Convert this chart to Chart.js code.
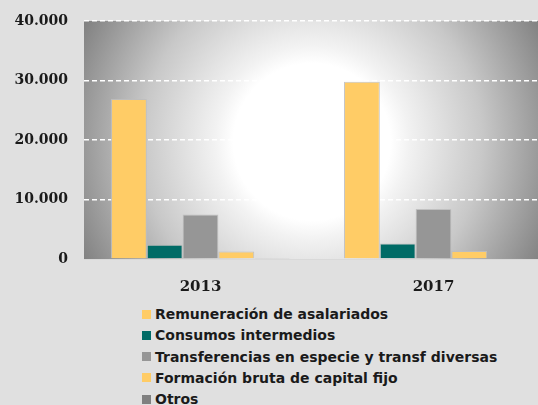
<!DOCTYPE html>
<html>
<head>
<meta charset="utf-8">
<script src="https://cdn.jsdelivr.net/npm/chart.js@4/dist/chart.umd.min.js"></script>
<style>
  html, body { margin:0; padding:0; background:#e0e0e0; width:538px; height:405px; overflow:hidden; }
  #wrap { position:absolute; left:0; top:0; width:550px; height:300px; }
  #legend { position:absolute; left:142px; top:304px; font-family:"DejaVu Sans", sans-serif; font-weight:bold; font-size:14px; color:#1a1a1a; }
  #legend div { height:21.3px; line-height:21.3px; white-space:nowrap; }
  #legend span.box { display:inline-block; width:9px; height:9px; margin-right:4px; vertical-align:middle; position:relative; top:-1px; }
</style>
</head>
<body>
<div id="wrap"><canvas id="c" width="550" height="300"></canvas></div>
<div id="legend"></div>
<script>
const categories = ["2013", "2017"];
const seriesNames = [
  "Remuneración de asalariados",
  "Consumos intermedios",
  "Transferencias en especie y transf diversas",
  "Formación bruta de capital fijo",
  "Otros"
];
const remuneracion = [26900, 29800];
const consumos = [2400, 2600];
const transferencias = [7500, 8400];
const formacion = [1250, 1350];
const otros = [80, 100];
const yTicks = [0, 10000, 20000, 30000, 40000];

const colors = ["#FFCC66", "#006B66", "#969696", "#FFCC66", "#808080"];
const values = [remuneracion, consumos, transferencias, formacion, otros];

const bgPlugin = {
  id: 'bg',
  beforeDraw(chart) {
    const {ctx, chartArea: a} = chart;
    ctx.save();
    const g = ctx.createRadialGradient(312, 142, 0, 312, 142, 262);
    g.addColorStop(0, '#ffffff');
    g.addColorStop(0.3, '#ffffff');
    g.addColorStop(0.37, '#f2f2f2');
    g.addColorStop(0.65, '#c8c8c8');
    g.addColorStop(1, '#7d7d7d');
    ctx.fillStyle = g;
    ctx.fillRect(a.left, a.top, a.right - a.left, a.bottom - a.top);
    ctx.restore();
  }
};

const fmt = v => String(v).replace(/\B(?=(\d{3})+(?!\d))/g, '.');

new Chart(document.getElementById('c'), {
  type: 'bar',
  data: {
    labels: categories,
    datasets: seriesNames.map((n, i) => ({
      label: n,
      data: values[i],
      backgroundColor: colors[i],
      borderColor: 'rgba(190,190,190,0.9)',
      borderWidth: 1,
      categoryPercentage: 0.768,
      barPercentage: 1
    }))
  },
  options: {
    responsive: false,
    animation: false,
    layout: { padding: { top: 21, right: 0, left: 0, bottom: 0 } },
    plugins: { legend: { display: false }, tooltip: { enabled: false } },
    scales: {
      x: {
        afterFit(s) { s.height = 41; s.paddingLeft = 0; s.paddingRight = 0; },
        grid: { display: false },
        border: { display: true, color: '#d9d9d9', width: 1 },
        ticks: { color: '#1a1a1a', padding: 11, font: { family: 'DejaVu Serif', weight: 'bold', size: 15 } }
      },
      y: {
        min: 0, max: 40000,
        afterBuildTicks(s) { s.ticks = yTicks.map(v => ({ value: v })); },
        afterFit(s) { s.width = 84; s.paddingTop = 0; s.paddingBottom = 0; },
        grid: {
          color: ctx => ctx.tick && ctx.tick.value === 0 ? 'rgba(0,0,0,0)' : '#ffffff',
          lineWidth: 1.5,
          tickLength: 0
        },
        border: { display: false, dash: [5, 3] },
        ticks: {
          color: '#1a1a1a', padding: 16,
          font: { family: 'DejaVu Serif', weight: 'bold', size: 14 },
          callback: v => fmt(v)
        }
      }
    }
  },
  plugins: [bgPlugin]
});

const leg = document.getElementById('legend');
seriesNames.forEach((n, i) => {
  const d = document.createElement('div');
  const b = document.createElement('span');
  b.className = 'box';
  b.style.background = colors[i];
  d.appendChild(b);
  d.appendChild(document.createTextNode(n));
  leg.appendChild(d);
});
</script>
</body>
</html>
